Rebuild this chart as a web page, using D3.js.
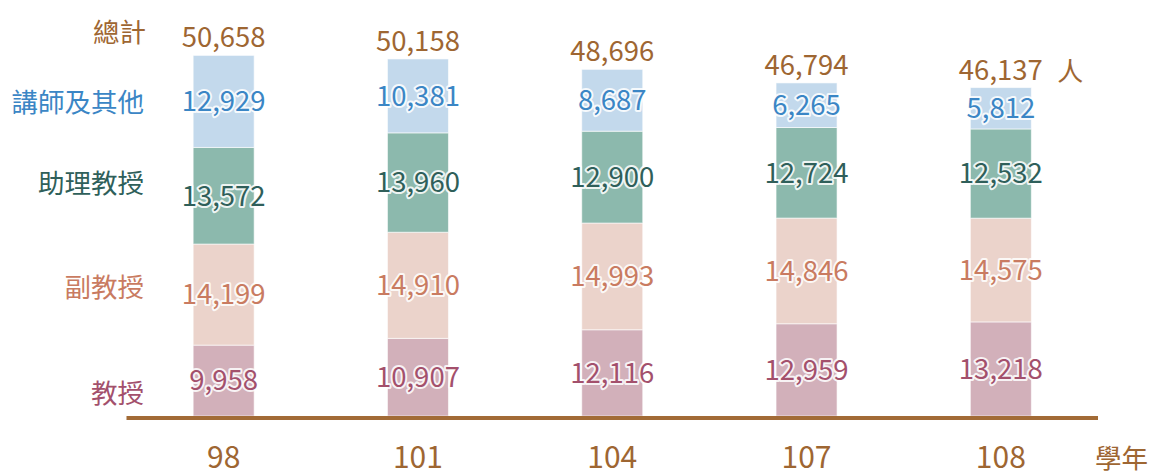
<!DOCTYPE html>
<html>
<head>
<meta charset="utf-8">
<script src="https://cdn.jsdelivr.net/npm/d3@7"></script>
<style>
  html, body { margin: 0; padding: 0; background: #fff; }
  svg { display: block; font-family: "Noto Sans CJK TC", "Noto Sans", sans-serif; }
  .halo { paint-order: stroke; stroke: #fff; stroke-width: 4px; stroke-linejoin: round; stroke-opacity: .85; }
</style>
</head>
<body>
<svg id="chart" width="1151" height="472"></svg>
<script>
// ---- data (學年, 人) ----
const years     = ['98', '101', '104', '107', '108'];
const professor = [9958, 10907, 12116, 12959, 13218];
const associate = [14199, 14910, 14993, 14846, 14575];
const assistant = [13572, 13960, 12900, 12724, 12532];
const lecturer  = [12929, 10381, 8687, 6265, 5812];
const totals    = [50658, 50158, 48696, 46794, 46137];

// bottom -> top
const series = [
  { key: 'professor', name: '教授',       values: professor, fill: '#d2b0ba', text: '#a3506c', nudge: 13 },
  { key: 'associate', name: '副教授',     values: associate, fill: '#ebd3cb', text: '#c97b61', nudge: -7 },
  { key: 'assistant', name: '助理教授',   values: assistant, fill: '#8cb9ad', text: '#2f5f5a', nudge: -12 },
  { key: 'lecturer',  name: '講師及其他', values: lecturer,  fill: '#c3d9ec', text: '#3b86c5', nudge: 1 }
];
const BROWN = '#9e6632';

const svg = d3.select('#chart');
const fmt = d3.format(',');

const x = d3.scaleBand().domain(years).range([126.5, 1098])
  .paddingInner(0.686).paddingOuter(0.343);
const y = d3.scaleLinear().domain([0, 50658]).range([416, 55.4]);

const rows = years.map((yr, i) => {
  const r = { year: yr, total: totals[i] };
  series.forEach(s => r[s.key] = s.values[i]);
  return r;
});
const stack = d3.stack().keys(series.map(s => s.key))(rows);

// bars
const layers = svg.append('g').selectAll('g').data(stack).join('g')
  .attr('fill', (d, i) => series[i].fill);
layers.selectAll('rect').data(d => d).join('rect')
  .attr('x', d => x(d.data.year))
  .attr('width', x.bandwidth())
  .attr('y', d => y(d[1]))
  .attr('height', d => y(d[0]) - y(d[1]))
  .attr('stroke', '#fff').attr('stroke-opacity', .6).attr('stroke-width', 1);

// value labels inside bars
stack.forEach((layer, i) => {
  svg.append('g').selectAll('text').data(layer).join('text')
    .attr('class', 'halo')
    .attr('x', d => x(d.data.year) + x.bandwidth() / 2)
    .attr('y', d => (y(d[0]) + y(d[1])) / 2)
    .attr('dy', '0.36em')
    .attr('text-anchor', 'middle')
    .attr('font-size', 27.5)
    .attr('fill', series[i].text)
    .text(d => fmt(d.data[series[i].key]));
});

// totals above bars
svg.append('g').selectAll('text').data(rows).join('text')
  .attr('x', d => x(d.year) + x.bandwidth() / 2)
  .attr('y', d => y(d.total) - 8)
  .attr('text-anchor', 'middle')
  .attr('font-size', 27.5)
  .attr('fill', BROWN)
  .text(d => fmt(d.total));

const last = rows[rows.length - 1];
svg.append('text')
  .attr('x', x(last.year) + x.bandwidth() + 26)
  .attr('y', y(last.total) - 7)
  .attr('font-size', 26).attr('fill', BROWN)
  .text('人');

// category labels on the left, aligned with the first bar
const labelX = 144;
stack.forEach((layer, i) => {
  const d = layer[0];
  svg.append('text')
    .attr('x', labelX)
    .attr('y', (y(d[0]) + y(d[1])) / 2 + series[i].nudge)
    .attr('dy', '0.36em')
    .attr('text-anchor', 'end')
    .attr('font-size', 26.5)
    .attr('fill', series[i].text)
    .text(series[i].name);
});
svg.append('text')
  .attr('x', labelX + 2).attr('y', y(rows[0].total) - 13)
  .attr('text-anchor', 'end')
  .attr('font-size', 26.5).attr('fill', BROWN)
  .text('總計');

// baseline
svg.append('line')
  .attr('x1', x.range()[0]).attr('x2', x.range()[1])
  .attr('y1', y(0) + 2).attr('y2', y(0) + 2)
  .attr('stroke', '#a26b36').attr('stroke-width', 4);

// x tick labels
svg.append('g').selectAll('text').data(years).join('text')
  .attr('x', d => x(d) + x.bandwidth() / 2)
  .attr('y', 468)
  .attr('text-anchor', 'middle')
  .attr('font-size', 30)
  .attr('fill', BROWN)
  .text(d => d);

svg.append('text')
  .attr('x', 1095).attr('y', 468)
  .attr('font-size', 26.5).attr('fill', BROWN)
  .text('學年');
</script>
</body>
</html>
